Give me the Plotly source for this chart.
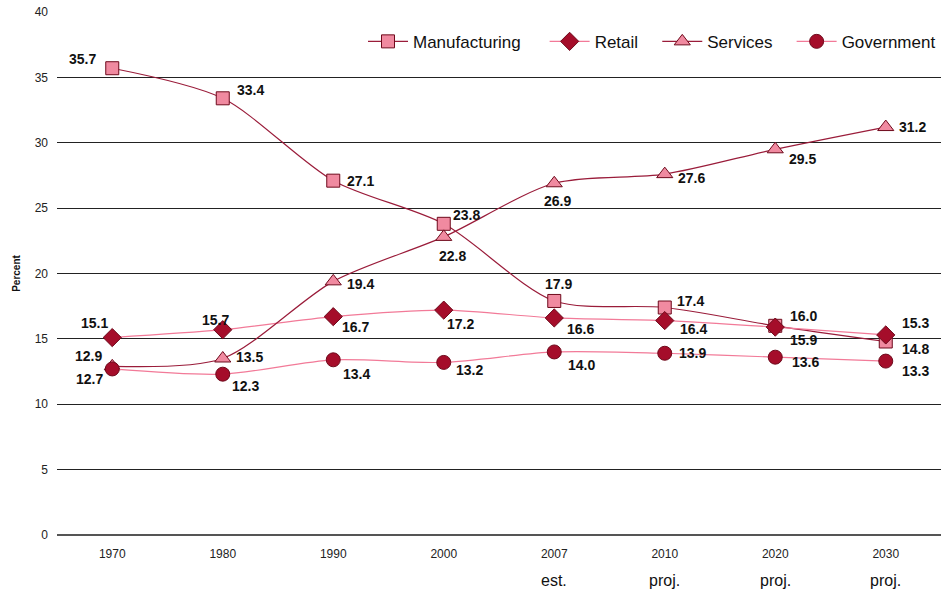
import plotly.graph_objects as go

years = ["1970", "1980", "1990", "2000", "2007", "2010", "2020", "2030"]
sublabels = ["", "", "", "", "est.", "proj.", "proj.", "proj."]
manufacturing = [35.7, 33.4, 27.1, 23.8, 17.9, 17.4, 16.0, 14.8]
retail = [15.1, 15.7, 16.7, 17.2, 16.6, 16.4, 15.9, 15.3]
services = [12.9, 13.5, 19.4, 22.8, 26.9, 27.6, 29.5, 31.2]
government = [12.7, 12.3, 13.4, 13.2, 14.0, 13.9, 13.6, 13.3]

DARK = "#9a1c3a"
PINK = "#f27a98"
MK_DARK = "#a50d2a"
MK_PINK = "#f08aa0"
OUT = "#6e0a1c"

NB = "&nbsp;"
fig = go.Figure()
series = [
    ("Manufacturing", manufacturing, DARK, "square", MK_PINK, 13, NB * 4),
    ("Retail", retail, PINK, "diamond", MK_DARK, 14, NB * 3),
    ("Services", services, DARK, "triangle-up", MK_PINK, 14, NB * 3),
    ("Government", government, PINK, "circle", MK_DARK, 14, ""),
]
for name, vals, lc, sym, mc, ms, pad in series:
    fig.add_trace(go.Scatter(
        x=years, y=vals, name=name + pad, mode="lines+markers",
        line=dict(color=lc, width=1.2, shape="spline", smoothing=0.8),
        marker=dict(symbol=sym, size=ms, color=mc, line=dict(color=OUT, width=1)),
    ))

# label offsets (px, up positive) per series
offs = {
    "Manufacturing": [(-30, 9), (28, 8), (27, 0), (23, 9), (4, 17), (26, 7), (28, 10), (30, -8)],
    "Retail": [(-18, 15), (-7, 10), (22, -10), (17, -14), (26, -11), (29, -8), (28, -13), (30, 12)],
    "Services": [(-24, 10), (27, 1), (27, -3), (9, -19), (3, -18), (27, -4), (27, -10), (27, 0)],
    "Government": [(-23, -10), (23, -12), (23, -14), (26, -8), (27, -13), (28, 0), (30, -5), (30, -10)],
}
for name, vals, *_ in series:
    for i, v in enumerate(vals):
        dx, dy = offs[name][i]
        fig.add_annotation(x=i, y=v, text=f"<b>{v:.1f}</b>", showarrow=False,
                           xshift=dx, yshift=dy,
                           font=dict(family="Liberation Sans", size=14, color="#111111"))
for i, s in enumerate(sublabels):
    if s:
        fig.add_annotation(x=i, y=0, text=s, showarrow=False,
                           yshift=-45, font=dict(family="Liberation Sans", size=16, color="#111"))

fig.update_layout(
    width=941, height=592,
    margin=dict(l=57, r=0, t=12, b=57),
    paper_bgcolor="white", plot_bgcolor="white",
    font=dict(family="Liberation Sans", color="#222"),
    showlegend=True,
    legend=dict(orientation="h", x=1.0, xanchor="right", y=0.943, yanchor="middle",
                font=dict(size=17, color="#111"), bgcolor="rgba(0,0,0,0)",
                itemwidth=40),
    xaxis=dict(type="category", range=[-0.5, 7.5], showgrid=False, showline=False,
               ticks="", tickfont=dict(size=12, color="#222"), fixedrange=True,
               automargin=False, ticklabelstandoff=10),
    yaxis=dict(range=[0, 40], dtick=5, showgrid=True, gridcolor="#222", gridwidth=1,
               zeroline=True, zerolinecolor="#555", zerolinewidth=2, automargin=False,
               tickfont=dict(size=12, color="#222"), ticks="", ticklabelstandoff=8,
               fixedrange=True,
               title=dict(text="<b>Percent</b>", font=dict(size=10, color="#111"), standoff=12)),
)
fig.write_html("out.html", config={"displayModeBar": False},
               post_script="document.body.style.margin='0px';document.body.style.overflow='hidden';")
